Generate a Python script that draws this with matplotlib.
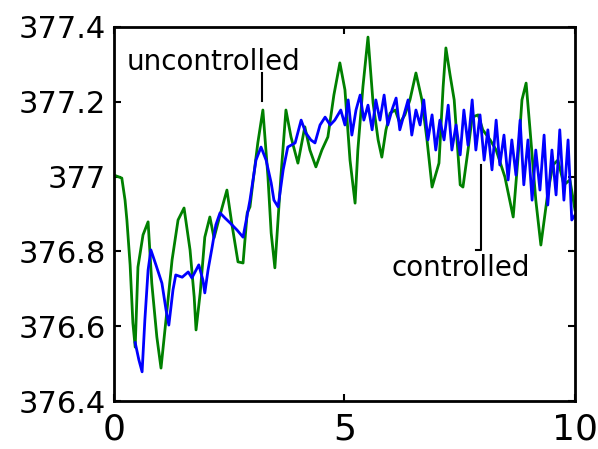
import matplotlib.pyplot as plt

# uncontrolled response (green)
t_unc = [0.00, 0.17, 0.24, 0.28, 0.35, 0.41, 0.46, 0.52, 0.63, 0.74, 0.82, 0.93,
         1.02, 1.15, 1.26, 1.39, 1.52, 1.65, 1.74, 1.78, 1.87, 1.97, 2.08, 2.17,
         2.30, 2.45, 2.56, 2.69, 2.80, 2.89, 2.95, 3.02, 3.12, 3.23, 3.34, 3.41,
         3.49, 3.62, 3.73, 3.84, 3.99, 4.14, 4.25, 4.38, 4.51, 4.64, 4.77, 4.90,
         5.01, 5.12, 5.23, 5.29, 5.40, 5.51, 5.62, 5.73, 5.81, 5.90, 5.99, 6.10,
         6.20, 6.31, 6.42, 6.55, 6.68, 6.79, 6.90, 7.05, 7.14, 7.20, 7.29, 7.38,
         7.51, 7.57, 7.68, 7.77, 7.90, 8.00, 8.16, 8.29, 8.48, 8.66, 8.76, 8.85,
         8.94, 9.02, 9.15, 9.26, 9.41, 9.52, 9.63, 9.76, 9.89, 10.00]
y_unc = [377.004, 376.996, 376.937, 376.884, 376.764, 376.609, 376.544, 376.758,
         376.844, 376.879, 376.715, 376.571, 376.488, 376.643, 376.777, 376.884,
         376.916, 376.804, 376.678, 376.590, 376.689, 376.838, 376.892, 376.836,
         376.897, 376.964, 376.871, 376.772, 376.769, 376.903, 376.919, 376.991,
         377.090, 377.178, 376.999, 376.849, 376.756, 376.999, 377.178, 377.106,
         377.036, 377.133, 377.071, 377.026, 377.071, 377.106, 377.218, 377.304,
         377.232, 377.044, 376.929, 377.071, 377.240, 377.373, 377.197, 377.098,
         377.052, 377.125, 377.170, 377.178, 377.143, 377.165, 377.205, 377.277,
         377.205, 377.098, 376.972, 377.036, 377.240, 377.344, 377.272, 377.205,
         376.978, 376.972, 377.071, 377.159, 377.165, 377.125, 377.098, 377.071,
         376.999, 376.892, 377.044, 377.205, 377.250, 377.133, 376.937, 376.817,
         376.956, 377.031, 377.044, 376.978, 376.991, 376.911]

# controlled response (blue)
t_con = [0.46, 0.54, 0.61, 0.67, 0.74, 0.80, 0.91, 1.04, 1.13, 1.19, 1.28, 1.34,
         1.48, 1.61, 1.69, 1.78, 1.84, 1.93, 1.97, 2.04, 2.13, 2.21, 2.30, 2.41,
         2.52, 2.67, 2.80, 2.89, 2.95, 3.08, 3.19, 3.30, 3.41, 3.47, 3.56, 3.67,
         3.77, 3.93, 4.06, 4.16, 4.27, 4.36, 4.47, 4.58, 4.69, 4.79, 4.92,
         5.01, 5.08, 5.16, 5.25, 5.34, 5.42, 5.51, 5.60, 5.68, 5.77, 5.86, 5.94,
         6.03, 6.12, 6.20, 6.29, 6.38, 6.46, 6.55, 6.64, 6.72, 6.81, 6.90, 6.98,
         7.07, 7.16, 7.25, 7.33, 7.42, 7.51, 7.59, 7.68, 7.77, 7.85, 7.94, 8.03,
         8.11, 8.20, 8.29, 8.37, 8.46, 8.55, 8.63, 8.72, 8.81, 8.89, 8.98, 9.07,
         9.15, 9.24, 9.33, 9.41, 9.50, 9.59, 9.67, 9.76, 9.85, 9.93, 10.00]
y_con = [376.556, 376.510, 376.478, 376.617, 376.750, 376.804, 376.764, 376.715,
         376.643, 376.603, 376.697, 376.737, 376.731, 376.745, 376.729, 376.750,
         376.764, 376.723, 376.689, 376.750, 376.812, 376.871, 376.903, 376.889,
         376.876, 376.857, 376.838, 376.897, 376.937, 377.044, 377.079, 377.044,
         376.983, 376.937, 376.919, 377.018, 377.079, 377.090, 377.151, 377.117,
         377.098, 377.090, 377.138, 377.159, 377.138, 377.151, 377.178,
         377.138, 377.205, 377.111, 377.178, 377.218, 377.151, 377.191, 377.125,
         377.205, 377.151, 377.218, 377.138, 377.178, 377.210, 377.125, 377.165,
         377.205, 377.111, 377.178, 377.138, 377.205, 377.098, 377.165, 377.071,
         377.151, 377.098, 377.191, 377.071, 377.138, 377.058, 377.178, 377.084,
         377.205, 377.071, 377.165, 377.044, 377.125, 377.018, 377.151, 377.031,
         377.111, 376.991, 377.098, 377.004, 377.151, 376.978, 377.098, 376.937,
         377.071, 376.964, 377.111, 376.924, 377.071, 376.951, 377.125, 376.937,
         377.098, 376.884, 376.897]

fig = plt.figure(figsize=(5.98, 4.49), dpi=100)
ax = fig.add_axes([0.1906, 0.1069, 0.7709, 0.833])

ax.plot(t_unc, y_unc, color=(0, 0.5, 0), lw=2)
ax.plot(t_con, y_con, color=(0, 0, 1), lw=2)

# annotation leaders
ax.plot([3.21, 3.21], [377.202, 377.277], color='k', lw=1.5)
ax.plot([7.85, 7.96, 7.96], [376.804, 376.804, 377.031], color='k', lw=1.5)
ax.text(2.16, 377.306, "uncontrolled", fontsize=20, ha='center', va='center')
ax.text(7.53, 376.756, "controlled", fontsize=20, ha='center', va='center')

ax.set_xlim(0, 10)
ax.set_ylim(376.4, 377.4)
ax.set_xticks([0, 5, 10])
ax.set_xticklabels(["0", "5", "10"])
ax.set_yticks([376.4, 376.6, 376.8, 377.0, 377.2, 377.4])
ax.set_yticklabels(["376.4", "376.6", "376.8", "377", "377.2", "377.4"])
ax.tick_params(direction='in', length=5, width=1.5, top=True, right=True)
ax.tick_params(axis='y', labelsize=22, pad=6)
ax.tick_params(axis='x', labelsize=26, pad=8)
for s in ax.spines.values():
    s.set_linewidth(2)

plt.savefig("out.png", dpi=100)
